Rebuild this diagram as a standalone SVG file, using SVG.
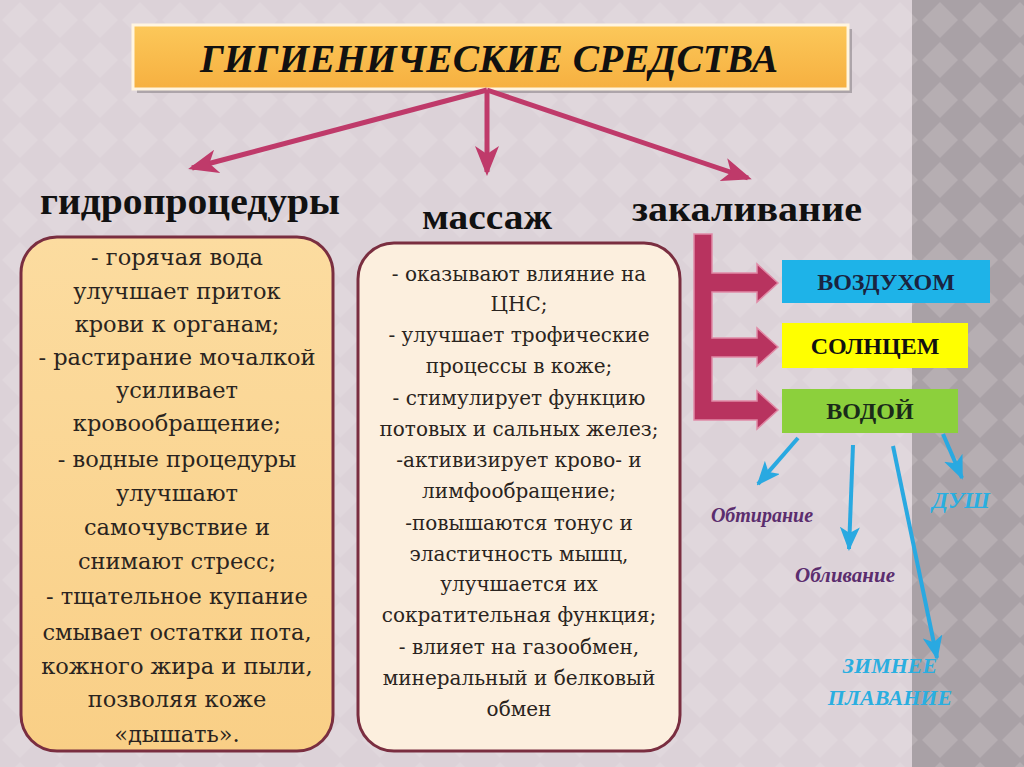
<svg xmlns="http://www.w3.org/2000/svg" width="1024" height="767" viewBox="0 0 1024 767">
<defs>
<pattern id="dia" width="40" height="40" patternUnits="userSpaceOnUse">
<rect width="40" height="40" fill="#a9a1a6"/>
<path d="M20,2 L38,20 L20,38 L2,20 z" fill="#b6aeb2"/>
</pattern>
<pattern id="dia2" width="40" height="40" patternUnits="userSpaceOnUse">
<rect width="40" height="40" fill="#dcd2d8"/>
<path d="M20,2 L38,20 L20,38 L2,20 z" fill="#e0d7dc"/>
</pattern>
<linearGradient id="gold" x1="0" y1="0" x2="0" y2="1">
<stop offset="0" stop-color="#fcc85a"/>
<stop offset="1" stop-color="#f6b040"/>
</linearGradient>
<linearGradient id="peach" x1="0" y1="0" x2="0" y2="1">
<stop offset="0" stop-color="#fcdca0"/>
<stop offset="1" stop-color="#f9cf86"/>
</linearGradient>
<marker id="mh" viewBox="0 0 30 24" refX="26" refY="12" markerWidth="30" markerHeight="24" markerUnits="userSpaceOnUse" orient="auto">
<path d="M0,0 L30,12 L0,24 L8,12 z" fill="#bf3a6a"/>
</marker>
<marker id="bh" viewBox="0 0 24 20" refX="22" refY="10" markerWidth="24" markerHeight="20" markerUnits="userSpaceOnUse" orient="auto">
<path d="M0,0 L24,10 L0,20 L6,10 z" fill="#29a9e1"/>
</marker>
<style>
.mg{stroke:#bf3a6a;stroke-width:5;fill:none}
.bl{stroke:#29a9e1;stroke-width:4;fill:none}
</style>
</defs>

<rect width="1024" height="767" fill="url(#dia2)"/>
<rect x="912" y="0" width="112" height="767" fill="url(#dia)"/>

<g id="title">
<rect x="137" y="29" width="715" height="64" fill="#8a8488" opacity="0.6"/>
<rect x="133" y="25" width="715" height="64" fill="url(#gold)" stroke="#fff5e0" stroke-width="3"/>
<text x="489" y="72" font-family="Liberation Serif" font-weight="bold" font-style="italic" fill="#111" font-size="40" text-anchor="middle" textLength="578" lengthAdjust="spacingAndGlyphs">ГИГИЕНИЧЕСКИЕ СРЕДСТВА</text>
</g>

<g id="connectors">
<line class="mg" x1="487" y1="90" x2="192" y2="168" marker-end="url(#mh)"/>
<line class="mg" x1="487" y1="90" x2="487" y2="172" marker-end="url(#mh)"/>
<line class="mg" x1="487" y1="90" x2="748" y2="178" marker-end="url(#mh)"/>
<path d="M694,234 L712,234 L712,273 L757,273 L757,264 L778,283 L757,302 L757,292 L712,292 L712,338 L757,338 L757,328 L778,347 L757,366 L757,357 L712,357 L712,401 L757,401 L757,391 L778,410 L757,429 L757,420 L694,420 z" fill="#b8335f" stroke="#e08aa6" stroke-width="1.5"/>
<line class="bl" x1="798" y1="438" x2="758" y2="484" marker-end="url(#bh)"/>
<line class="bl" x1="853" y1="445" x2="849" y2="549" marker-end="url(#bh)"/>
<line class="bl" x1="893" y1="446" x2="937" y2="658" marker-end="url(#bh)"/>
<line class="bl" x1="943" y1="434" x2="962" y2="478" marker-end="url(#bh)"/>
</g>

<g id="hydro">
<text x="40" y="214" font-family="Liberation Serif" font-weight="bold" fill="#111" font-size="38" textLength="300" lengthAdjust="spacingAndGlyphs">гидропроцедуры</text>
<rect x="21" y="237" width="312" height="514" rx="36" fill="url(#peach)" stroke="#7a2e40" stroke-width="3"/>
<g font-family="DejaVu Serif" font-size="22.5" fill="#2a2420" text-anchor="middle">
<text x="177" y="265">- горячая вода</text>
<text x="177" y="299">улучшает приток</text>
<text x="177" y="332">крови к органам;</text>
<text x="177" y="365">- растирание мочалкой</text>
<text x="177" y="398">усиливает</text>
<text x="177" y="431">кровообращение;</text>
<text x="177" y="467">- водные процедуры</text>
<text x="177" y="501">улучшают</text>
<text x="177" y="535">самочувствие и</text>
<text x="177" y="569">снимают стресс;</text>
<text x="177" y="604">- тщательное купание</text>
<text x="177" y="640">смывает остатки пота,</text>
<text x="177" y="674">кожного жира и пыли,</text>
<text x="177" y="707">позволяя коже</text>
<text x="177" y="742">«дышать».</text>
</g>
</g>

<g id="massage">
<text x="422" y="229" font-family="Liberation Serif" font-weight="bold" fill="#111" font-size="36" textLength="130" lengthAdjust="spacingAndGlyphs">массаж</text>
<rect x="358" y="243" width="322" height="508" rx="36" fill="#fcefde" stroke="#7a2e40" stroke-width="3"/>
<g font-family="DejaVu Serif" font-size="20" fill="#2a2420" text-anchor="middle">
<text x="519" y="281">- оказывают влияние на</text>
<text x="519" y="311">ЦНС;</text>
<text x="519" y="342">- улучшает трофические</text>
<text x="519" y="373">процессы в коже;</text>
<text x="519" y="405">- стимулирует функцию</text>
<text x="519" y="436">потовых и сальных желез;</text>
<text x="519" y="467">-активизирует крово- и</text>
<text x="519" y="498">лимфообращение;</text>
<text x="519" y="530">-повышаются тонус и</text>
<text x="519" y="561">эластичность мышц,</text>
<text x="519" y="591">улучшается их</text>
<text x="519" y="622">сократительная функция;</text>
<text x="519" y="654">- влияет на газообмен,</text>
<text x="519" y="685">минеральный и белковый</text>
<text x="519" y="716">обмен</text>
</g>
</g>

<g id="hardening">
<text x="632" y="221" font-family="Liberation Serif" font-weight="bold" fill="#111" font-size="36" textLength="230" lengthAdjust="spacingAndGlyphs">закаливание</text>
</g>

<g id="air">
<rect x="782" y="260" width="208" height="43" fill="#1eb3e8"/>
<text x="886" y="290" font-family="Liberation Serif" font-weight="bold" text-anchor="middle" font-size="24" fill="#1a2440">ВОЗДУХОМ</text>
</g>
<g id="sun">
<rect x="782" y="323" width="186" height="45" fill="#ffff00"/>
<text x="875" y="354" font-family="Liberation Serif" font-weight="bold" text-anchor="middle" font-size="24" fill="#111">СОЛНЦЕМ</text>
</g>
<g id="water">
<rect x="782" y="389" width="176" height="44" fill="#8cd03c"/>
<text x="870" y="419" font-family="Liberation Serif" font-weight="bold" text-anchor="middle" font-size="24" fill="#1a2a1a">ВОДОЙ</text>
</g>

<g id="rubdown"><text x="762" y="522" font-family="Liberation Serif" font-weight="bold" font-style="italic" text-anchor="middle" font-size="20" fill="#5b2d6e">Обтирание</text></g>
<g id="pouring"><text x="845" y="582" font-family="Liberation Serif" font-weight="bold" font-style="italic" text-anchor="middle" font-size="21" fill="#5b2d6e">Обливание</text></g>
<g id="shower"><text x="961" y="508" font-family="Liberation Serif" font-weight="bold" font-style="italic" text-anchor="middle" font-size="23" fill="#2aaee0">ДУШ</text></g>
<g id="winter">
<text x="890" y="673" font-family="Liberation Serif" font-weight="bold" font-style="italic" text-anchor="middle" font-size="22" fill="#2aaee0">ЗИМНЕЕ</text>
<text x="890" y="705" font-family="Liberation Serif" font-weight="bold" font-style="italic" text-anchor="middle" font-size="22" fill="#2aaee0">ПЛАВАНИЕ</text>
</g>
</svg>
